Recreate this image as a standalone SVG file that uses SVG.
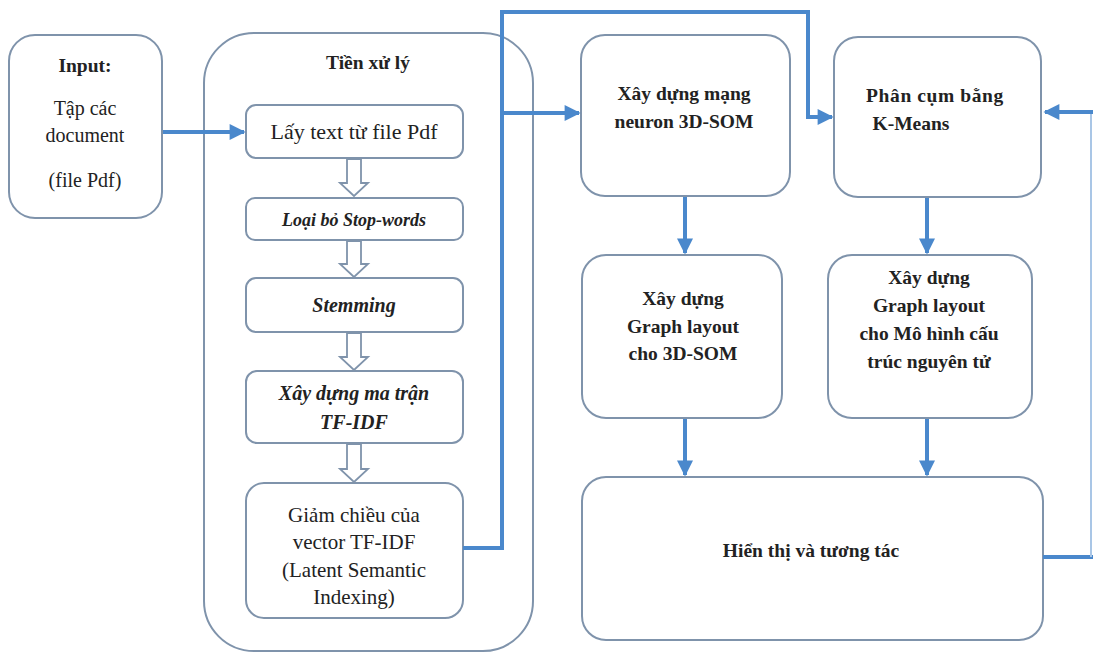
<svg xmlns="http://www.w3.org/2000/svg" width="1093" height="654" viewBox="0 0 1093 654">
<style>
.box{fill:#fff;stroke:#7f93ab;stroke-width:2}
.t{font-family:'Liberation Serif','Times New Roman','DejaVu Serif',serif;font-size:20px;fill:#222;text-anchor:middle}
.b{font-weight:bold;font-size:19.5px}
.i{font-style:italic;font-size:20px}
.r{font-size:21px}
.c{fill:none;stroke:#4a88cc;stroke-width:4}
.h{fill:#fff;stroke:#7f93ab;stroke-width:1.8}
</style>
<defs>
<marker id="ar" viewBox="0 0 10 10" refX="9" refY="5" markerWidth="4.2" markerHeight="4" orient="auto" markerUnits="strokeWidth">
<path d="M0,0 L10,5 L0,10 z" fill="#4a88cc"/>
</marker>
</defs>
<rect width="1093" height="654" fill="#fff"/>

<g id="input" font-family="Liberation Serif, serif">
<rect class="box" x="9" y="35" width="153" height="183" rx="26"/>
<text class="t b" x="85" y="72">Input:</text>
<text class="t" x="85" y="115">Tập các</text>
<text class="t" x="85" y="142">document</text>
<text class="t" x="85" y="187">(file Pdf)</text>
</g>

<g id="tien-xu-ly" font-family="Liberation Serif, serif">
<rect class="box" x="204" y="33" width="329" height="618" rx="50"/>
<text class="t b" x="368" y="69">Tiền xử lý</text>
</g>

<g id="lay-text" font-family="Liberation Serif, serif">
<rect class="box" x="246" y="105" width="217" height="53" rx="10"/>
<text class="t" x="354" y="139" style="font-size:22px">Lấy text từ file Pdf</text>
</g>
<g id="loai-bo" font-family="Liberation Serif, serif">
<rect class="box" x="246" y="198" width="217" height="42" rx="9"/>
<text class="t b i" x="354" y="226" style="font-size:18px">Loại bỏ Stop-words</text>
</g>
<g id="stemming" font-family="Liberation Serif, serif">
<rect class="box" x="246" y="278" width="217" height="54" rx="10"/>
<text class="t b i" x="354" y="312">Stemming</text>
</g>
<g id="ma-tran" font-family="Liberation Serif, serif">
<rect class="box" x="246" y="371" width="217" height="72" rx="11"/>
<text class="t b i" x="354" y="400">Xây dựng ma trận</text>
<text class="t b i" x="354" y="429">TF-IDF</text>
</g>
<g id="giam-chieu" font-family="Liberation Serif, serif">
<rect class="box" x="246" y="483" width="217" height="135" rx="18"/>
<text class="t r" x="354" y="522">Giảm chiều của</text>
<text class="t r" x="354" y="549">vector TF-IDF</text>
<text class="t r" x="354" y="577">(Latent Semantic</text>
<text class="t r" x="354" y="604">Indexing)</text>
</g>

<g id="xay-dung-mang" font-family="Liberation Serif, serif">
<rect class="box" x="581" y="35" width="209" height="161" rx="24"/>
<text class="t b" x="684" y="100">Xây dựng mạng</text>
<text class="t b" x="684" y="128">neuron 3D-SOM</text>
</g>
<g id="kmeans" font-family="Liberation Serif, serif">
<rect class="box" x="834" y="37" width="207" height="160" rx="24"/>
<text class="t b" x="935" y="102" style="letter-spacing:0.6px">Phân cụm bằng</text>
<text class="t b" x="911" y="130">K-Means</text>
</g>
<g id="graph-som" font-family="Liberation Serif, serif">
<rect class="box" x="582" y="255" width="200" height="163" rx="24"/>
<text class="t b" x="683" y="305">Xây dựng</text>
<text class="t b" x="683" y="333">Graph layout</text>
<text class="t b" x="683" y="360">cho 3D-SOM</text>
</g>
<g id="graph-nguyen-tu" font-family="Liberation Serif, serif">
<rect class="box" x="828" y="255" width="204" height="163" rx="24"/>
<text class="t b" x="929" y="284">Xây dựng</text>
<text class="t b" x="929" y="312">Graph layout</text>
<text class="t b" x="929" y="340">cho Mô hình cấu</text>
<text class="t b" x="929" y="368">trúc nguyên tử</text>
</g>
<g id="hien-thi" font-family="Liberation Serif, serif">
<rect class="box" x="582" y="477" width="461" height="163" rx="24"/>
<text class="t b" x="811" y="557">Hiển thị và tương tác</text>
</g>

<g id="connectors">
<path class="c" d="M163,132 L244,132" marker-end="url(#ar)"/>
<path class="c" d="M463,548 L502,548 L502,12 L808,12 L808,117 L832,117" marker-end="url(#ar)"/>
<path class="c" d="M502,113 L579,113" marker-end="url(#ar)"/>
<path class="c" d="M685,197 L685,253" marker-end="url(#ar)"/>
<path class="c" d="M927,198 L927,253" marker-end="url(#ar)"/>
<path class="c" d="M685,419 L685,475" marker-end="url(#ar)"/>
<path class="c" d="M927,419 L927,475" marker-end="url(#ar)"/>
<path class="c" d="M1043,557 L1093,557"/>
<path d="M1091,113 L1091,557" fill="none" stroke="#a9c6e6" stroke-width="2"/>
<path class="c" d="M1093,112 L1045,112" marker-end="url(#ar)"/>
<path class="h" d="M347,159 L361,159 L361,183 L368,183 L354,196 L340,183 L347,183 Z"/>
<path class="h" d="M347,241 L361,241 L361,264 L368,264 L354,277 L340,264 L347,264 Z"/>
<path class="h" d="M347,333 L361,333 L361,357 L368,357 L354,370 L340,357 L347,357 Z"/>
<path class="h" d="M347,444 L361,444 L361,469 L368,469 L354,482 L340,469 L347,469 Z"/>
</g>
</svg>
